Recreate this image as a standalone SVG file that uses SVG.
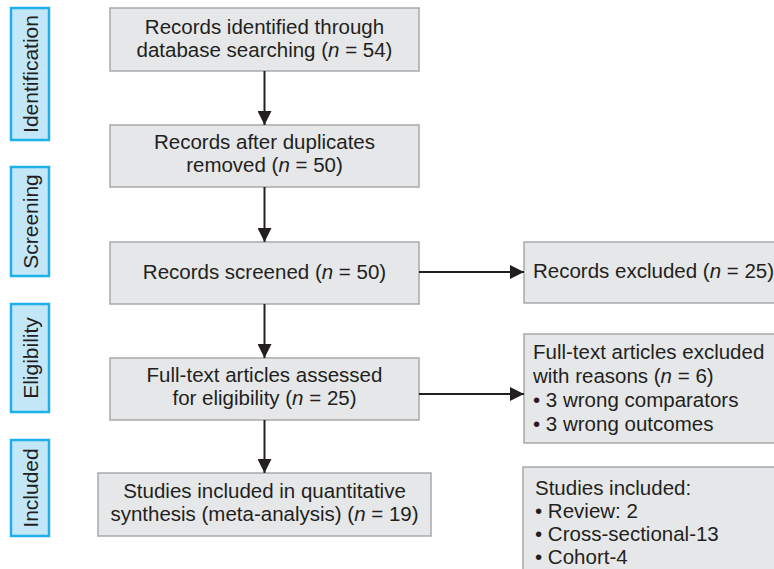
<svg xmlns="http://www.w3.org/2000/svg" width="774" height="569" viewBox="0 0 774 569">
<defs>
<marker id="ah" viewBox="0 0 14 14" refX="14" refY="7" markerWidth="14" markerHeight="14" markerUnits="userSpaceOnUse" orient="auto">
<path d="M0,0 L14,7 L0,14 Z" fill="#231f20"/>
</marker>
</defs>
<style>
.box{fill:#e6e7e9;stroke:#a8a9ab;stroke-width:1.5}
.side{fill:#c4e7f7;stroke:#1cb1e9;stroke-width:2.5}
.t{font-family:"Liberation Sans",Arial,sans-serif;font-size:20.5px;fill:#231f20}
.c{text-anchor:middle}
.st{font-family:"Liberation Sans",Arial,sans-serif;font-size:21px;fill:#231f20;text-anchor:middle}
.ln{stroke:#231f20;stroke-width:2;fill:none}
</style>
<rect width="774" height="569" fill="#ffffff"/>
<g id="side-identification">
<rect class="side" x="11" y="8" width="38" height="132"/>
<text class="st" transform="translate(38,74) rotate(-90)">Identification</text>
</g>
<g id="side-screening">
<rect class="side" x="11" y="167" width="38" height="109"/>
<text class="st" transform="translate(38,221.5) rotate(-90)">Screening</text>
</g>
<g id="side-eligibility">
<rect class="side" x="11" y="304" width="38" height="108"/>
<text class="st" transform="translate(38,358) rotate(-90)">Eligibility</text>
</g>
<g id="side-included">
<rect class="side" x="11" y="440" width="38" height="96"/>
<text class="st" transform="translate(38,488) rotate(-90)">Included</text>
</g>
<g id="n-identified">
<rect class="box" x="110" y="8" width="309" height="63"/>
<text class="t c" x="264.5" y="34">Records identified through</text>
<text class="t c" x="264.5" y="57">database searching (<tspan font-style="italic">n</tspan> = 54)</text>
</g>
<g id="n-duplicates">
<rect class="box" x="110" y="125" width="309" height="62"/>
<text class="t c" x="264.5" y="149">Records after duplicates</text>
<text class="t c" x="264.5" y="172">removed (<tspan font-style="italic">n</tspan> = 50)</text>
</g>
<g id="n-screened">
<rect class="box" x="110" y="242" width="309" height="62"/>
<text class="t c" x="264.5" y="279">Records screened (<tspan font-style="italic">n</tspan> = 50)</text>
</g>
<g id="n-fulltext">
<rect class="box" x="110" y="358" width="309" height="62"/>
<text class="t c" x="264.5" y="382">Full-text articles assessed</text>
<text class="t c" x="264.5" y="405">for eligibility (<tspan font-style="italic">n</tspan> = 25)</text>
</g>
<g id="n-included">
<rect class="box" x="98" y="473" width="333" height="63"/>
<text class="t c" x="264.5" y="498">Studies included in quantitative</text>
<text class="t c" x="264.5" y="521">synthesis (meta-analysis) (<tspan font-style="italic">n</tspan> = 19)</text>
</g>
<g id="n-excluded">
<rect class="box" x="524" y="242" width="270" height="61"/>
<text class="t" x="533" y="278">Records excluded (<tspan font-style="italic">n</tspan> = 25)</text>
</g>
<g id="n-fulltext-excluded">
<rect class="box" x="524" y="334" width="270" height="109"/>
<text class="t" x="533" y="359">Full-text articles excluded</text>
<text class="t" x="533" y="383">with reasons (<tspan font-style="italic">n</tspan> = 6)</text>
<text class="t" x="533" y="407">• 3 wrong comparators</text>
<text class="t" x="533" y="431">• 3 wrong outcomes</text>
</g>
<g id="n-studies">
<rect class="box" x="523" y="467" width="271" height="120"/>
<text class="t" x="535" y="495">Studies included:</text>
<text class="t" x="535" y="518">• Review: 2</text>
<text class="t" x="535" y="541">• Cross-sectional-13</text>
<text class="t" x="535" y="564">• Cohort-4</text>
</g>
<g id="connectors">
<line class="ln" x1="264.5" y1="71" x2="264.5" y2="125" marker-end="url(#ah)"/>
<line class="ln" x1="264.5" y1="187" x2="264.5" y2="242" marker-end="url(#ah)"/>
<line class="ln" x1="264.5" y1="304" x2="264.5" y2="358" marker-end="url(#ah)"/>
<line class="ln" x1="264.5" y1="420" x2="264.5" y2="473" marker-end="url(#ah)"/>
<line class="ln" x1="419" y1="272" x2="524" y2="272" marker-end="url(#ah)"/>
<line class="ln" x1="419" y1="394" x2="524" y2="394" marker-end="url(#ah)"/>
</g>
</svg>
